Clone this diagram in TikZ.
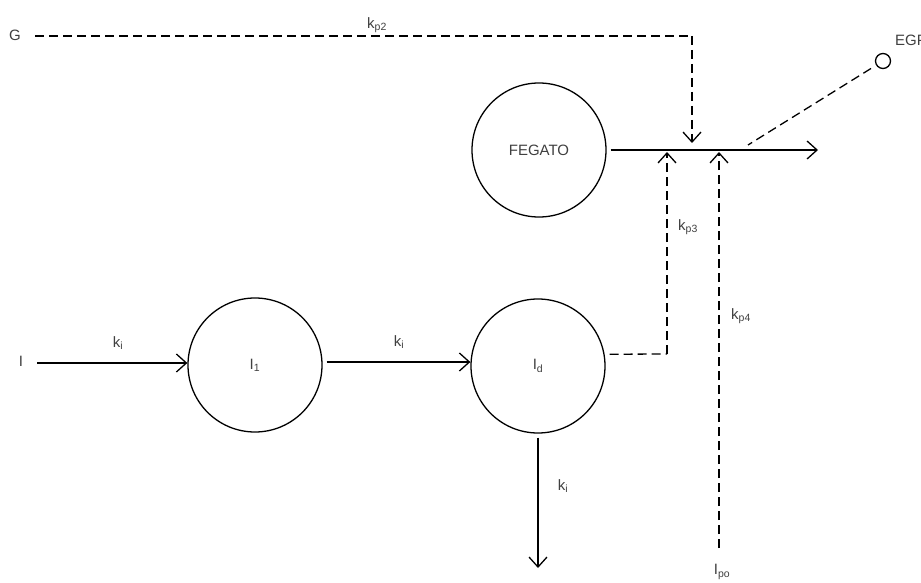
\documentclass[tikz,border=0pt]{standalone}
\usepackage{fontspec}
\setmainfont{Liberation Sans}
\usetikzlibrary{arrows.meta}
\tikzset{
  x=1pt, y=-1pt,
  comp/.style={draw, circle, line width=1.3pt, minimum size=134pt, inner sep=0pt, text=black!75},
  lbl/.style={text=black!75, font=\fontsize{15}{18}\selectfont, inner sep=0pt},
  flow/.style={line width=1.3pt, -{Straight Barb[length=10pt,width=18pt,line width=1.3pt]}},
  sig/.style={line width=1.3pt, dash pattern=on 9pt off 5pt},
  sigarrow/.style={sig, -{Straight Barb[length=10pt,width=18pt,line width=1.3pt]}},
  small/.style={draw, circle, line width=1.3pt, minimum size=15pt, inner sep=0pt}
}
\begin{document}
\begin{tikzpicture}
\clip (0,0) rectangle (921,583);
\fill[white] (0,0) rectangle (921,583);
% compartments
\node[comp, font=\fontsize{15}{18}\selectfont] (feg) at (539,150) {FEGATO};
\node[comp, font=\fontsize{15}{18}\selectfont] (i1) at (255,365) {I\textsubscript{1}};
\node[comp, font=\fontsize{15}{18}\selectfont] (id) at (538,366) {I\textsubscript{d}};
\node[small] (egpc) at (883,61) {};
% labels
\node[lbl] (g) at (15,35) {G};
\node[lbl] (iin) at (21,361) {I};
\node[lbl] (kp2) at (377,25) {k\textsubscript{p2}};
\node[lbl] (ki1) at (118,343) {k\textsubscript{i}};
\node[lbl] (ki2) at (399,342) {k\textsubscript{i}};
\node[lbl] (ki3) at (563,486) {k\textsubscript{i}};
\node[lbl] (kp3) at (688,227) {k\textsubscript{p3}};
\node[lbl] (kp4) at (741,316) {k\textsubscript{p4}};
\node[lbl] (ipo) at (722,572) {I\textsubscript{po}};
\node[lbl, anchor=west] (egp) at (895,40) {EGP};
% coordinates
\coordinate (gs) at (35,36);
\coordinate (gc) at (692,36);
\coordinate (gt) at (692,150);
\coordinate (out) at (818,150);
\coordinate (idc) at (667,354);
\coordinate (t3) at (667,150);
\coordinate (ps) at (719,548);
\coordinate (t4) at (719,150);
\coordinate (egpe) at (748,145);
\coordinate (iinl) at (37,363);
\coordinate (down) at (538,568);
% connectors
\draw[flow] (iinl) -- (i1.west |- iinl);
\draw[flow, shorten <=4pt] (i1.east |- 0,362) -- (id.west |- 0,362);
\draw[flow, shorten <=4pt] (id.south) -- (down);
\draw[flow, shorten <=4pt] (feg.east) -- (out);
\draw[sig] (gs) -- (gc);
\draw[sigarrow] (gc) -- ([yshift=7pt]gt);
\draw[sig, shorten <=5pt] (id.10) -- (idc);
\draw[sigarrow] (idc) -- ([yshift=-2pt]t3);
\draw[sigarrow] (ps) -- ([yshift=-2pt]t4);
\draw[sig, shorten <=6pt] (egpc) -- (egpe);
\end{tikzpicture}
\end{document}
